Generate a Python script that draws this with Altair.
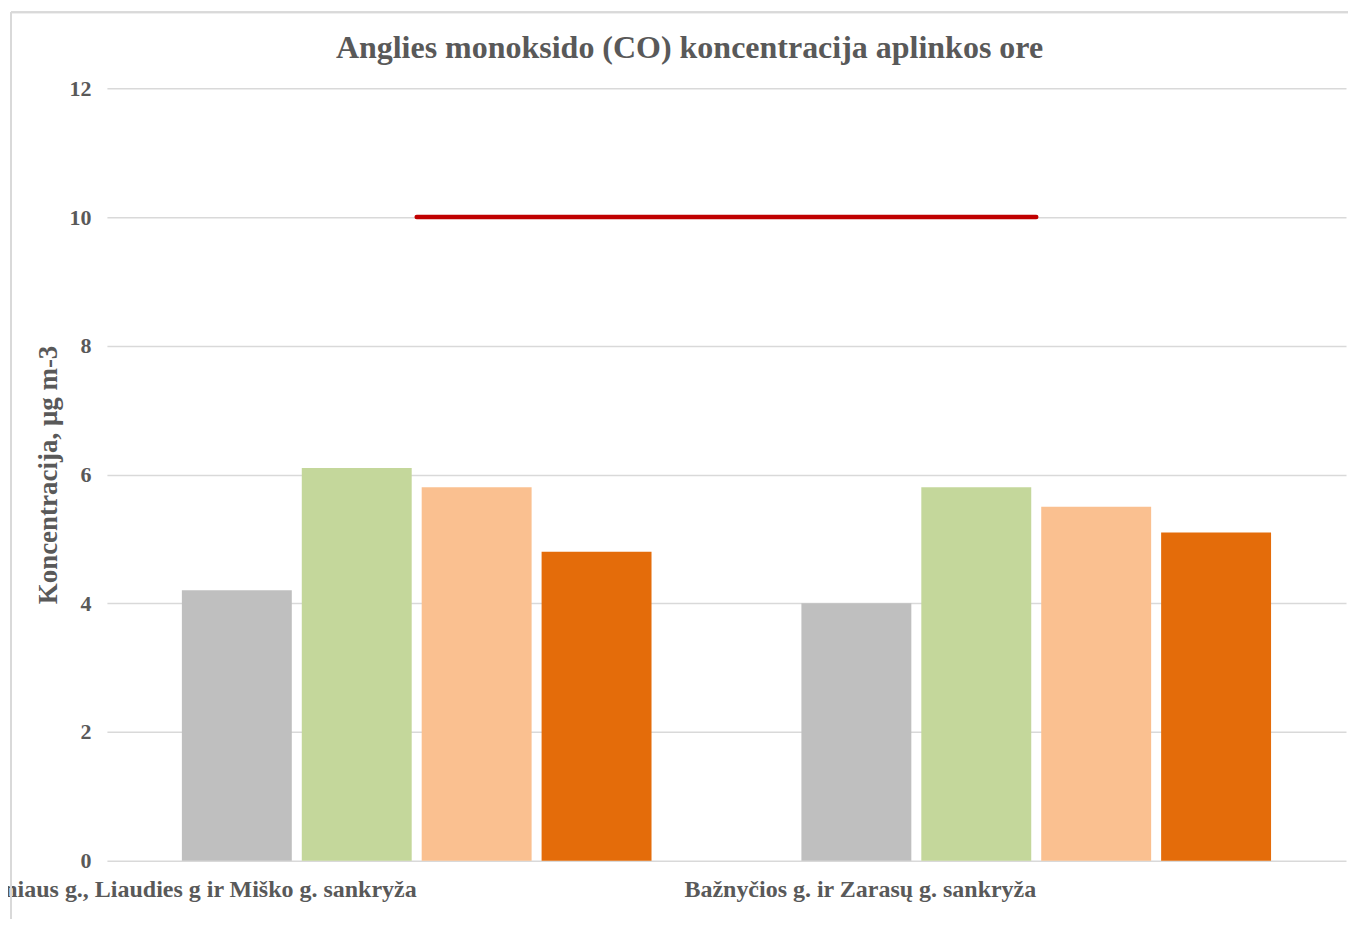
import altair as alt
import pandas as pd

sites = ["Vilniaus g., Liaudies g ir Miško g. sankryža", "Bažnyčios g. ir Zarasų g. sankryža"]
series = ["Serija 1", "Serija 2", "Serija 3", "Serija 4"]
colors = ["#BFBFBF", "#C4D79B", "#FAC090", "#E46C0A"]
values_site1 = [4.2, 6.1, 5.8, 4.8]
values_site2 = [4.0, 5.8, 5.5, 5.1]
limit_value = [10, 10]
y_ticks = [0, 2, 4, 6, 8, 10, 12]

rows = []
for s, v in zip(series, values_site1):
    rows.append({"site": sites[0], "series": s, "value": v})
for s, v in zip(series, values_site2):
    rows.append({"site": sites[1], "series": s, "value": v})
bars_df = pd.DataFrame(rows)
limit_df = pd.DataFrame({"site": sites, "value": limit_value})

FONT = "Liberation Serif"
TXT = "#595959"
GRID = "#D9D9D9"

x_enc = alt.X(
    "site:N",
    sort=sites,
    scale=alt.Scale(paddingInner=0, paddingOuter=0),
    axis=alt.Axis(
        title=None, labelAngle=0, labelAlign="right", labelBaseline="top",
        labelPadding=17, ticks=False, domain=False, labelFontSize=24,
        labelFont=FONT, labelFontWeight="bold", labelColor=TXT, labelLimit=0,
        labelOverlap=False, labelBound=False,
    ),
)

y_scale = alt.Scale(domain=[0, 12], nice=False)
y_axis = alt.Axis(
    title="Koncentracija, μg m-3", values=y_ticks, labelOverlap=False, format="d",
    grid=True, gridColor=GRID, gridWidth=1.5, domain=False, ticks=False,
    labelPadding=16, labelFontSize=22, labelFont=FONT, labelFontWeight="bold",
    labelColor=TXT, titleFont=FONT, titleFontSize=27, titleFontWeight="bold",
    titleColor=TXT, titlePadding=6,
)

bars = alt.Chart(bars_df).mark_bar().encode(
    x=x_enc,
    xOffset=alt.XOffset("series:N", sort=series,
                        scale=alt.Scale(paddingInner=0.0833, paddingOuter=0.625)),
    y=alt.Y("value:Q", scale=y_scale, axis=y_axis),
    color=alt.Color("series:N", sort=series,
                    scale=alt.Scale(domain=series, range=colors), legend=None),
)

limit = alt.Chart(limit_df).mark_line(color="#C00000", strokeWidth=4.5, strokeCap="round").encode(
    x=alt.X("site:N", sort=sites),
    y=alt.Y("value:Q", scale=y_scale),
)

border_left = alt.Chart(limit_df).mark_rule(color=GRID, strokeWidth=2).encode(
    x=alt.value(-96), y=alt.value(-76), y2=alt.value(900)
)
border_top = alt.Chart(limit_df).mark_rule(color=GRID, strokeWidth=2).encode(
    x=alt.value(-96), x2=alt.value(1400), y=alt.value(-76)
)

chart = alt.layer(bars, limit, border_left, border_top).properties(
    width=1240,
    height=773,
    title=alt.TitleParams(
        "Anglies monoksido (CO) koncentracija aplinkos ore",
        font=FONT, fontSize=32, fontWeight="bold", color=TXT,
        anchor="middle", dx=-37, offset=-79, baseline="alphabetic",
    ),
    autosize=alt.AutoSizeParams(type="none"),
    padding={"left": 99, "top": 80, "right": 2, "bottom": 58},
).configure(background="white").configure_view(stroke=None, strokeWidth=0)

chart.save("out.html", embed_options={"renderer": "svg", "actions": False})
